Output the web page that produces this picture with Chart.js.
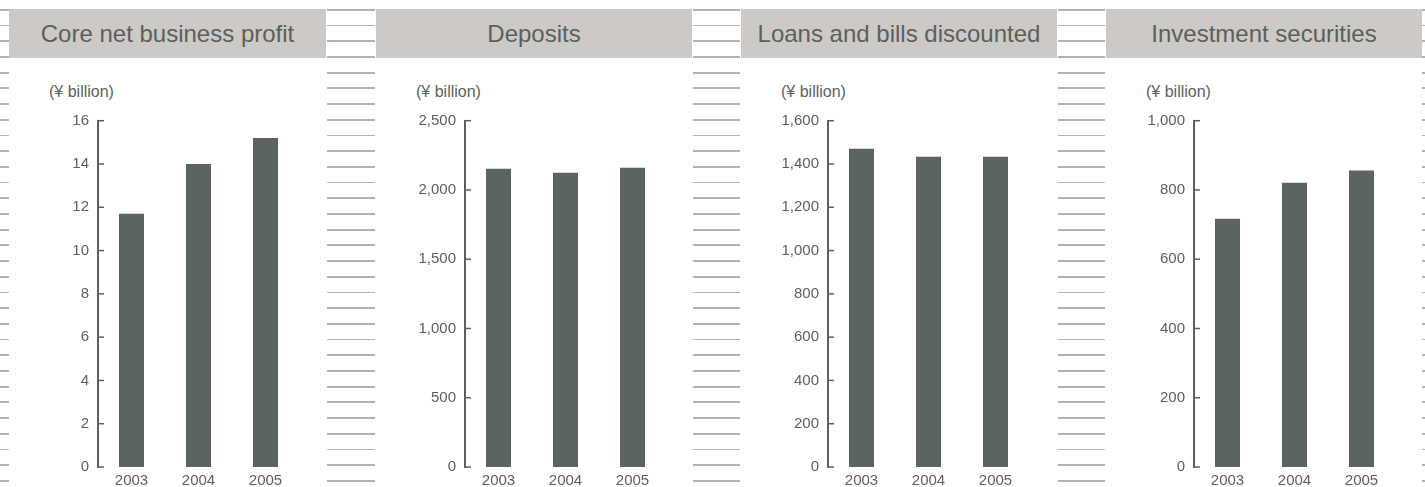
<!DOCTYPE html>
<html>
<head>
<meta charset="utf-8">
<script src="https://cdn.jsdelivr.net/npm/chart.js@4.4.1/dist/chart.umd.min.js"></script>
<style>
  html, body { margin: 0; padding: 0; background: #fff; }
  #page { position: relative; width: 1425px; height: 487px; overflow: hidden; background: #fff;
          font-family: "Liberation Sans", Arial, sans-serif; color: #5a625e; }
  .stripes { position: absolute; top: 8.7px; height: 478px;
             background-image: repeating-linear-gradient(to bottom, #b6b1ad 0, #b6b1ad 1.7px, transparent 1.7px, transparent 15.7px); }
  .head { position: absolute; top: 9px; height: 49px; background: #cdc9c6;
          font-size: 24px; line-height: 49px; text-align: center; color: #59615d; }
  .unit { position: absolute; top: 83px; font-size: 16px; line-height: 18px; }
  canvas { position: absolute; }
</style>
</head>
<body>
<div id="page"></div>
<script>
var years = ["2003", "2004", "2005"];
var titles = ["Core net business profit", "Deposits", "Loans and bills discounted", "Investment securities"];
var coreProfit = [11.7, 14.0, 15.2];
var deposits = [2153, 2124, 2160];
var loans = [1470, 1433, 1433];
var securities = [717, 821, 856];
var yMax = [16, 2500, 1600, 1000];
var yStep = [2, 500, 200, 200];

var seriesList = [coreProfit, deposits, loans, securities];

// layout of the four panels
var boxLeft = [9, 376, 741, 1106];
var boxWidth = [317, 316, 316, 316];
var axisX = [98, 465, 828, 1194];
var stripeBands = [[0, 8.5], [327, 48], [693, 47], [1058, 47], [1422, 3]];

var INK = "#5a625e";
var BAR = "#5b6461";

var page = document.getElementById("page");

stripeBands.forEach(function (b) {
  var d = document.createElement("div");
  d.className = "stripes";
  d.style.left = b[0] + "px";
  d.style.width = b[1] + "px";
  page.appendChild(d);
});

var innerTicks = {
  id: "innerTicks",
  afterDatasetsDraw: function (chart) {
    var y = chart.scales.y, ctx = chart.ctx, x0 = chart.chartArea.left;
    ctx.save();
    ctx.strokeStyle = INK;
    ctx.lineWidth = 1.5;
    y.ticks.forEach(function (t, i) {
      var py = y.getPixelForTick(i);
      ctx.beginPath();
      ctx.moveTo(x0, py);
      ctx.lineTo(x0 + 6, py);
      ctx.stroke();
    });
    ctx.restore();
  }
};

titles.forEach(function (title, i) {
  var h = document.createElement("div");
  h.className = "head";
  h.style.left = boxLeft[i] + "px";
  h.style.width = boxWidth[i] + "px";
  h.textContent = title;
  page.appendChild(h);

  var u = document.createElement("div");
  u.className = "unit";
  u.style.left = (boxLeft[i] + 40) + "px";
  u.textContent = "(\u00a5 billion)";
  page.appendChild(u);

  var cv = document.createElement("canvas");
  var left = axisX[i] - 90;
  cv.style.left = left + "px";
  cv.style.top = "60px";
  cv.style.width = "300px";
  cv.style.height = "427px";
  cv.width = 300;
  cv.height = 427;
  page.appendChild(cv);

  new Chart(cv.getContext("2d"), {
    type: "bar",
    data: {
      labels: years,
      datasets: [{
        data: seriesList[i],
        backgroundColor: BAR,
        borderWidth: 0,
        barPercentage: 25 / 67,
        categoryPercentage: 1
      }]
    },
    options: {
      responsive: false,
      animation: false,
      devicePixelRatio: 1,
      layout: { padding: { top: 60.7, right: 9, left: 0, bottom: 0 } },
      plugins: { legend: { display: false }, tooltip: { enabled: false } },
      scales: {
        x: {
          grid: { display: false, drawTicks: false },
          border: { display: false },
          ticks: { color: INK, padding: 5, font: { family: "Liberation Sans", size: 15 } },
          afterFit: function (s) { s.height = 20; }
        },
        y: {
          min: 0,
          max: yMax[i],
          grid: { display: false, drawTicks: false },
          border: { display: true, color: INK, width: 2 },
          ticks: {
            stepSize: yStep[i],
            color: INK,
            padding: 9,
            font: { family: "Liberation Sans", size: 15 },
            callback: function (v) { return v.toLocaleString("en-US"); }
          },
          afterFit: function (s) { s.width = 90; }
        }
      }
    },
    plugins: [innerTicks]
  });
});
</script>
</body>
</html>
